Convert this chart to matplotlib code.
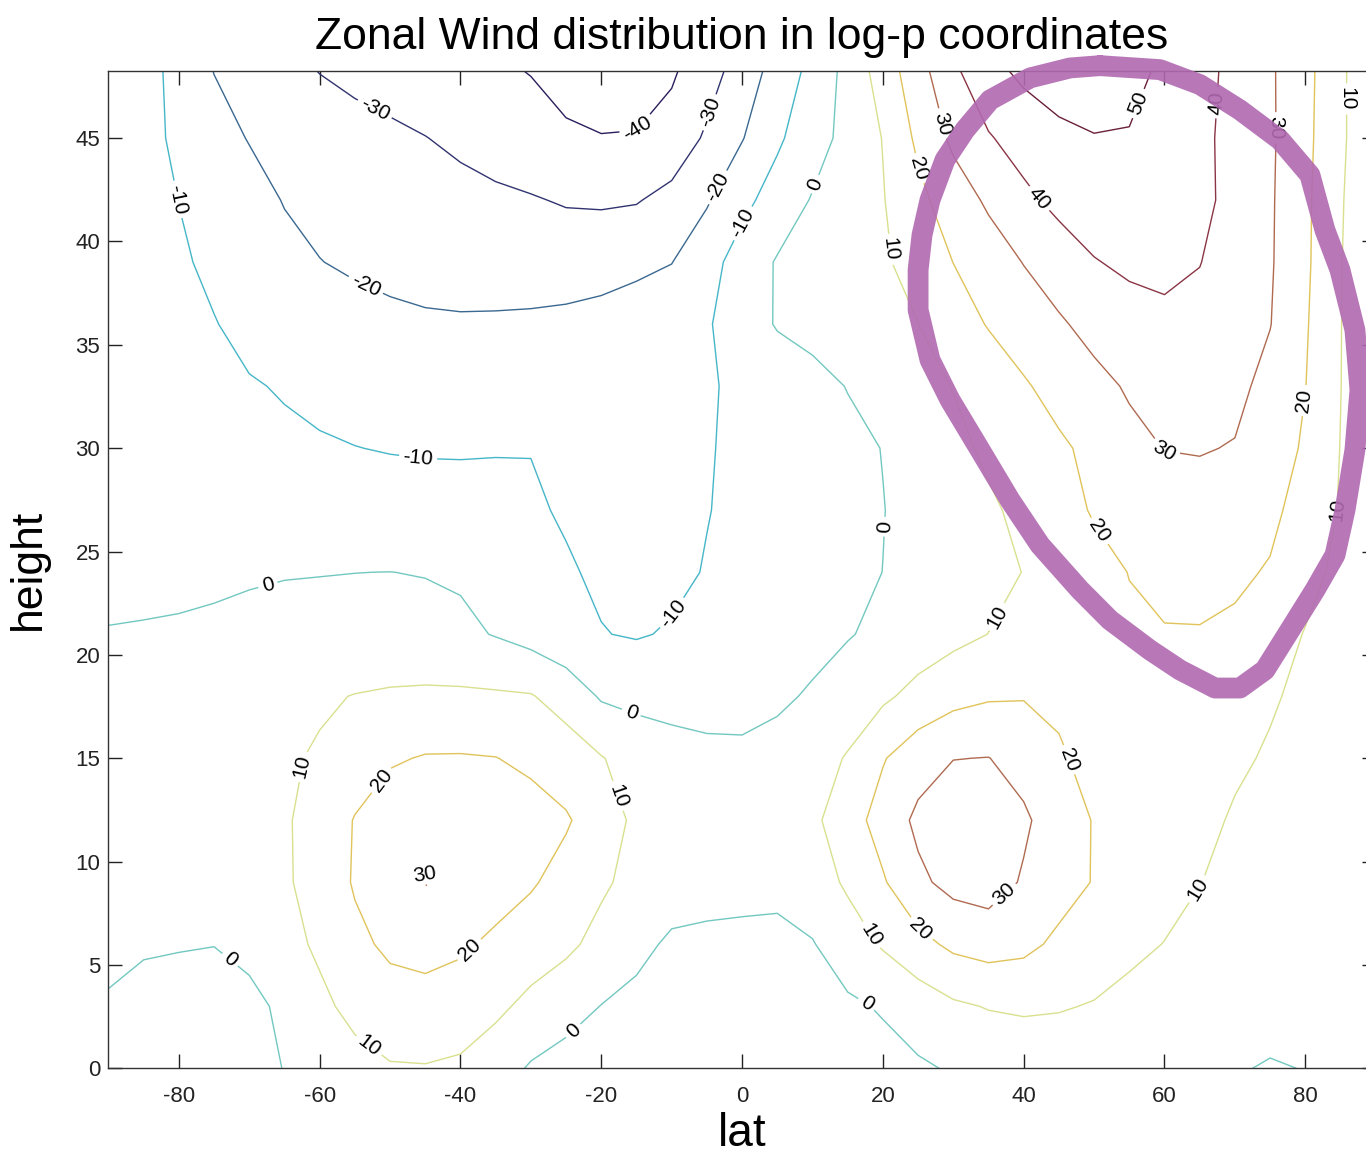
import numpy as np
import matplotlib
matplotlib.use("Agg")
import matplotlib.pyplot as plt

plt.rcParams['font.family'] = ['Liberation Sans', 'DejaVu Sans']
plt.rcParams['axes.unicode_minus'] = False
plt.rcParams['contour.negative_linestyle'] = 'solid'

# ---- data: zonal wind (m/s) on a lat x height grid ----
lat = [-90, -85, -80, -75, -70, -65, -60, -55, -50, -45, -40, -35, -30, -25, -20, -15, -10, -5, 0,
       5, 10, 15, 20, 25, 30, 35, 40, 45, 50, 55, 60, 65, 70, 75, 80, 85, 90]
height = [0, 3, 6, 9, 12, 15, 18, 21, 24, 27, 30, 33, 36, 39, 42, 45, 48.3]

u_h00 = [-0.5, -2, -3, -3, -2.5, 0.2, 3.5, 7, 9.3, 9.5, 8.5, 4.5, -1, -3.5, -5.5, -7, -8, -8.5, -8,
         -7, -6, -4.5, -3, -1.2, 0.8, 2.5, 4, 4.8, 5, 4.2, 3, 1.5, 0.3, -0.3, 0.1, 0.2, 0.3]
u_h03 = [-0.2, -1.5, -2, -2.5, -2, 1.5, 8, 12.5, 15.5, 16.3, 15, 12, 7.5, 3.5, -0.2, -2.5, -4.5, -5.5, -5.2,
         -4.5, -3.5, -1.5, 0.8, 4.5, 8.5, 10.5, 11.2, 10.6, 9.5, 7.5, 5.5, 3.8, 2.5, 1.5, 1, 0.7, 0.5]
u_h06 = [0.5, 0.5, 0.3, 0.1, 2, 7, 11.5, 17.5, 22, 23.3, 21.5, 18, 15, 12, 7, 2.5, -1.5, -1.5, -1.2,
         -1.5, -0.5, 5, 11, 17, 22, 24, 22.5, 18, 14.5, 12, 9.8, 7, 5, 3.5, 2.5, 1.5, 0.5]
u_h09 = [0.5, 2, 3, 4.5, 6, 9, 13, 21, 27, 30.4, 28, 24.5, 21, 16.5, 11.5, 7, 4.5, 2.5, 1.5,
         1.5, 5, 11.5, 19, 28, 33, 34.5, 29, 24, 19.5, 16, 13, 10.2, 7.5, 5, 3, 1.5, 0.5]
u_h12 = [0.5, 2, 3, 4.5, 6.5, 9, 13.5, 20.5, 25, 27, 26.8, 25.5, 24, 21, 15, 8, 5, 3.5, 3,
         4.5, 8, 15.5, 24, 32, 36.5, 37, 31.5, 25, 19.5, 16.5, 15, 12.5, 9, 6.5, 4, 2, 0.5]
u_h15 = [0.5, 2.5, 4, 5.5, 7, 8.8, 11, 15, 19, 20.6, 20.7, 20.2, 18, 15, 10.5, 6, 3.5, 2, 1.5,
         2.5, 5.5, 10.8, 19.3, 26, 29.8, 30.2, 26.5, 21, 17.5, 15.5, 14.5, 13.5, 11.5, 9, 6, 3, 0.5]
u_h18 = [0.5, 2, 3, 4, 5, 7, 8.8, 10.3, 11.2, 11.6, 11.5, 11.2, 10.6, 6, -1, -2.5, -3, -3, -2.5,
         -1.2, 0.8, 4, 8.3, 13, 17, 19, 19.5, 18.5, 17, 16.3, 16, 15, 13.5, 11, 8, 4, 0.5]
u_h21 = [0.05, 0.3, 0.6, 1, 1.5, 2, 2.5, 2.9, 3, 2.8, 2, -0.5, -3.5, -7, -9.7, -10.7, -9.2, -7.5, -5.5,
         -3.8, -2.2, -0.5, 1.8, 4.5, 7.3, 10.1, 12.8, 15, 17, 18.7, 19.6, 19.6, 18.5, 15, 9.5, 5, 0.5]
u_h24 = [-0.3, -1, -1.2, -1, -0.6, -0.3, -0.2, -0.05, 0.05, -0.3, -1.2, -3, -6, -9.2, -11.2, -12.4, -12, -9.5, -7.5,
         -5.5, -3.8, -2, 0.05, 2.3, 4.8, 7.3, 10.2, 13.5, 17, 20.2, 21.8, 22.2, 21.5, 19.3, 13.5, 7.5, 0.5]
u_h27 = [-0.3, -3, -5, -5.7, -6.2, -6.5, -6.7, -7, -7.2, -7.5, -7.8, -8.3, -9, -10.8, -11.8, -12.2, -11.8, -10.3, -8,
         -6, -4.2, -2.2, -0.2, 2.7, 5.7, 8.7, 12, 16.5, 20.8, 23.5, 25.3, 26, 25.3, 22, 16.5, 9.3, 0.5]
u_h30 = [-0.4, -4, -6, -7.3, -8, -8.8, -9.4, -9.9, -10.3, -10.5, -10.5, -10.3, -10.2, -10.8, -11.5, -12, -11.8, -10.5, -8.5,
         -6.3, -4.3, -2.2, 0.2, 4, 7.8, 11.5, 15, 18.5, 22.3, 27.5, 30.2, 30.6, 29.5, 26, 18.5, 9.8, 0.5]
u_h33 = [-0.5, -4.5, -6.5, -8, -9.5, -10.5, -11.5, -12.3, -13, -13.4, -13.5, -13.3, -13, -12.8, -12.5, -12.2, -11.5, -10.8, -8.5,
         -5.5, -2.8, 0.3, 3.8, 7, 10.3, 14.2, 19, 23.3, 27.3, 31, 34, 34.5, 32.5, 27, 20.2, 10.2, 0.5]
u_h36 = [-0.5, -5.5, -8.5, -9.7, -12, -14, -15.5, -16.8, -18, -18.8, -19, -18.8, -18.5, -18, -17, -15.5, -13.5, -11, -4.7,
         0.7, 2.8, 5, 7.2, 9.9, 15.3, 20.6, 24.7, 28.8, 33, 36, 38, 37.8, 34.5, 30.3, 21, 10.3, 0.5]
u_h39 = [-0.5, -6, -9, -11.5, -14, -17, -19.8, -21.3, -22.5, -23.3, -24, -24.4, -24.5, -24.2, -23.5, -22, -20.2, -13.5, -6,
         0.8, 4, 6.3, 8.8, 13.5, 20.1, 25.2, 30.3, 35, 39.5, 41.8, 42.2, 40.2, 36.5, 31, 21.8, 10.5, 0.5]
u_h42 = [-0.5, -6.5, -10.1, -13, -16, -20.5, -22.5, -24, -25.2, -26.2, -27.2, -28.3, -29.3, -30.8, -31.2, -30.6, -27, -21, -12.5,
         -6, 0.7, 5, 9.5, 17.5, 25, 31.5, 37.8, 42.5, 45.3, 46.8, 46.3, 42.5, 37, 31.2, 22, 11, 0.5]
u_h45 = [-0.5, -7.5, -11.5, -16, -20.5, -23, -25.3, -26.8, -28.2, -29.8, -31.8, -34, -36.2, -38.3, -39.5, -39.3, -36.5, -28.5, -20.5,
         -11.5, -4.2, 3, 10.3, 22, 32, 39.2, 44, 47.5, 49.5, 49.3, 46.5, 42, 37.3, 31.5, 22.5, 12, 0.5]
u_h48 = [-0.5, -7, -12.5, -20.3, -24.5, -27.5, -30.3, -32.3, -34, -35.6, -37.2, -38.7, -40.4, -44, -47, -45.5, -41.3, -34.5, -25.5,
         -16.3, -7.2, 3, 14.6, 26.2, 38.3, 47.2, 52.2, 55.5, 56.5, 53.5, 48, 43, 37.5, 31.3, 23, 12, 0.5]

levels = [-40, -30, -20, -10, 0, 10, 20, 30, 40, 50]
level_colors = ['#2b1d5c', '#30336f', '#3a6890', '#45b6c8', '#72c8c0',
                '#d9e08e', '#e0c35a', '#b06a50', '#8a3444', '#6a1f3a']

# where the contour labels sit (lat, height), per level
label_spots = {
    -40: [(-15, 45.5)],
    -30: [(-52.5, 46.2), (-4.2, 46.2)],
    -20: [(-54.4, 37.2), (-2.8, 42.5)],
    -10: [(-80.7, 42), (0, 40.9), (-46.1, 29.3), (-8.9, 21.8)],
    0: [(-66.4, 22.2), (11.7, 42.6), (20.2, 26.2), (-16.5, 16.5), (-73.1, 5.1),
        (-24.2, 1.9), (17.1, 2.8)],
    10: [(20.7, 39.6), (37, 21.7), (-62.5, 14.6), (-18.3, 13.1), (-53.9, 0.7),
         (18.1, 6.4), (65, 8.6), (84.5, 27), (86.6, 46.9)],
    20: [(24.8, 43.5), (50.8, 26), (80, 32.3), (-51.1, 13.9), (-39.2, 5.9),
         (46.2, 14.9), (24.6, 6.4)],
    30: [(28.4, 45.7), (76.7, 45.5), (59.3, 29.2), (-46, 9.6), (37, 8.5)],
    40: [(41.9, 42), (68.1, 46.7)],
    50: [(56.1, 46.7)],
}

x_ticks = [-80, -60, -40, -20, 0, 20, 40, 60, 80]
y_ticks = [0, 5, 10, 15, 20, 25, 30, 35, 40, 45]
title_text = "Zonal Wind distribution in log-p coordinates"
xlabel_text = "lat"
ylabel_text = "height"

# hand-drawn highlight loop (axes-fraction coordinates)
loop_x = [0.7825, 0.8298, 0.8613, 0.8929, 0.9245, 0.9481, 0.9599, 0.9718, 0.9836, 0.9876,
          0.9836, 0.9758, 0.9679, 0.9521, 0.9324, 0.9126, 0.8929, 0.8732, 0.8456, 0.8219,
          0.7903, 0.7667, 0.7351, 0.7114, 0.6878, 0.6641, 0.6483, 0.6389, 0.6389, 0.6420,
          0.6483, 0.6601, 0.6759, 0.6957, 0.7273, 0.7588, 0.7825]
loop_y = [1.0053, 1.0013, 0.9863, 0.9609, 0.9309, 0.8957, 0.8406, 0.8005, 0.7403, 0.6802,
          0.6200, 0.5598, 0.5147, 0.4796, 0.4395, 0.3994, 0.3813, 0.3813, 0.3994, 0.4194,
          0.4495, 0.4796, 0.5247, 0.5698, 0.6200, 0.6701, 0.7102, 0.7604, 0.8005, 0.8356,
          0.8707, 0.9108, 0.9409, 0.9709, 0.9930, 1.0030, 1.0053]

U = np.array([u_h00, u_h03, u_h06, u_h09, u_h12, u_h15, u_h18, u_h21, u_h24,
              u_h27, u_h30, u_h33, u_h36, u_h39, u_h42, u_h45, u_h48])

fig = plt.figure(figsize=(13.66, 11.61), dpi=100)
ax = fig.add_axes([0.0794, 0.0798, 0.9277, 0.8591])

for lev, col in zip(levels, level_colors):
    cs = ax.contour(lat, height, U, levels=[lev], colors=[col], linewidths=1.0,
                    linestyles='solid')
    spots = label_spots.get(lev, [])
    if spots:
        ax.clabel(cs, manual=spots, fmt='%d', fontsize=15, colors='k',
                  inline=True, inline_spacing=4)

ax.set_xlim(-90, 90)
ax.set_ylim(0, 48.25)
ax.set_xticks(x_ticks)
ax.set_yticks(y_ticks)
ax.tick_params(direction='in', length=10, width=1, top=True, right=True,
               labelsize=16, colors='#222222')
ax.tick_params(axis='x', pad=13)
ax.tick_params(axis='y', pad=6)
for s in ax.spines.values():
    s.set_color('#333333')
    s.set_linewidth(1.0)

ax.set_title(title_text, fontsize=32, pad=16)
ax.set_xlabel(xlabel_text, fontsize=33)
ax.set_ylabel(ylabel_text, fontsize=32)
ax.xaxis.set_label_coords(0.5, -0.044)
ax.yaxis.set_label_coords(-0.047, 0.5)

ax.plot(loop_x, loop_y, transform=ax.transAxes, clip_on=False, color='#b169b1',
        alpha=0.9, lw=15, solid_joinstyle='round', solid_capstyle='round', zorder=5)

fig.savefig("out.png", dpi=100)
